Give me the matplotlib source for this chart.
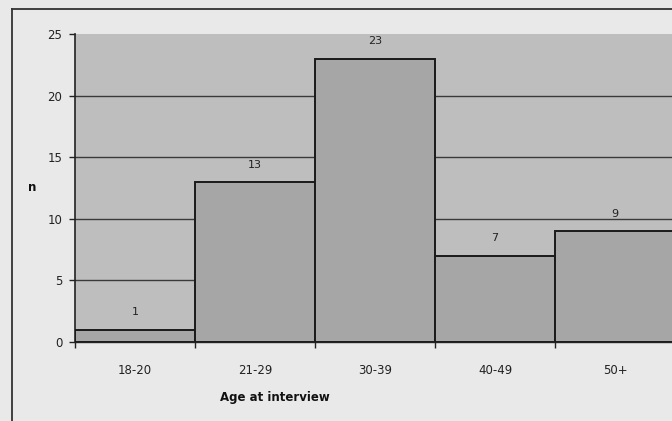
import numpy as np
import matplotlib.pyplot as plt
from matplotlib.lines import Line2D

# Age group counts
age_groups = ['18-20', '21-29', '30-39', '40-49', '50+']
counts = [1, 13, 23, 7, 9]
y_ticks = [0, 5, 10, 15, 20, 25]

fig = plt.figure(figsize=(6.72, 4.21), dpi=100, facecolor='#e9e9e9')
ax = fig.add_axes([75 / 672, 79 / 421, 600 / 672, 308 / 421])
ax.set_facecolor('#bebebe')

x = np.arange(len(age_groups))
ax.bar(x, counts, width=1.0, color='#a6a6a6', edgecolor='#1a1a1a',
       linewidth=1.4, zorder=3)

for xi, c in zip(x, counts):
    ax.text(xi, c + 1.0, str(c), ha='center', va='bottom',
            fontsize=8, color='#222222', zorder=4)

# gridlines (none on the top edge)
for yv in y_ticks[1:-1]:
    ax.axhline(yv, color='#3a3a3a', linewidth=1.0, zorder=1)

ax.set_xlim(-0.5, len(age_groups) - 0.5)
ax.set_ylim(0, 25)
ax.set_yticks(y_ticks)
ax.set_yticklabels([str(v) for v in y_ticks], fontsize=8.5, color='#222222')

# tick marks at bar boundaries, labels at bar centres
ax.set_xticks(np.arange(len(age_groups)) - 0.5)
ax.set_xticklabels([])
ax.set_xticks(x, minor=True)
ax.set_xticklabels(age_groups, minor=True, fontsize=8.5, color='#222222')
ax.tick_params(axis='x', which='minor', length=0, pad=16)
ax.tick_params(axis='x', which='major', length=4, width=1, color='#222222')
ax.tick_params(axis='y', length=4, width=1, color='#222222', pad=5)

for s in ['top', 'right']:
    ax.spines[s].set_visible(False)
ax.spines['left'].set_color('#222222')
ax.spines['left'].set_linewidth(1.2)
ax.spines['bottom'].set_color('#222222')
ax.spines['bottom'].set_linewidth(1.0)

fig.text(275 / 672, 1 - 398 / 421, 'Age at interview', ha='center', va='center',
         fontsize=8.5, fontweight='bold', color='#111111')
fig.text(32 / 672, 1 - 188 / 421, 'n', ha='center', va='center',
         fontsize=8.5, fontweight='bold', color='#111111')

# outer chart frame (partly cropped)
fig.add_artist(Line2D([12 / 672, 12 / 672], [0, 1 - 9 / 421],
                      transform=fig.transFigure, color='#333333', linewidth=1.3))
fig.add_artist(Line2D([12 / 672, 1], [1 - 9 / 421, 1 - 9 / 421],
                      transform=fig.transFigure, color='#333333', linewidth=1.3))

fig.savefig('out.png', dpi=100, facecolor=fig.get_facecolor())
